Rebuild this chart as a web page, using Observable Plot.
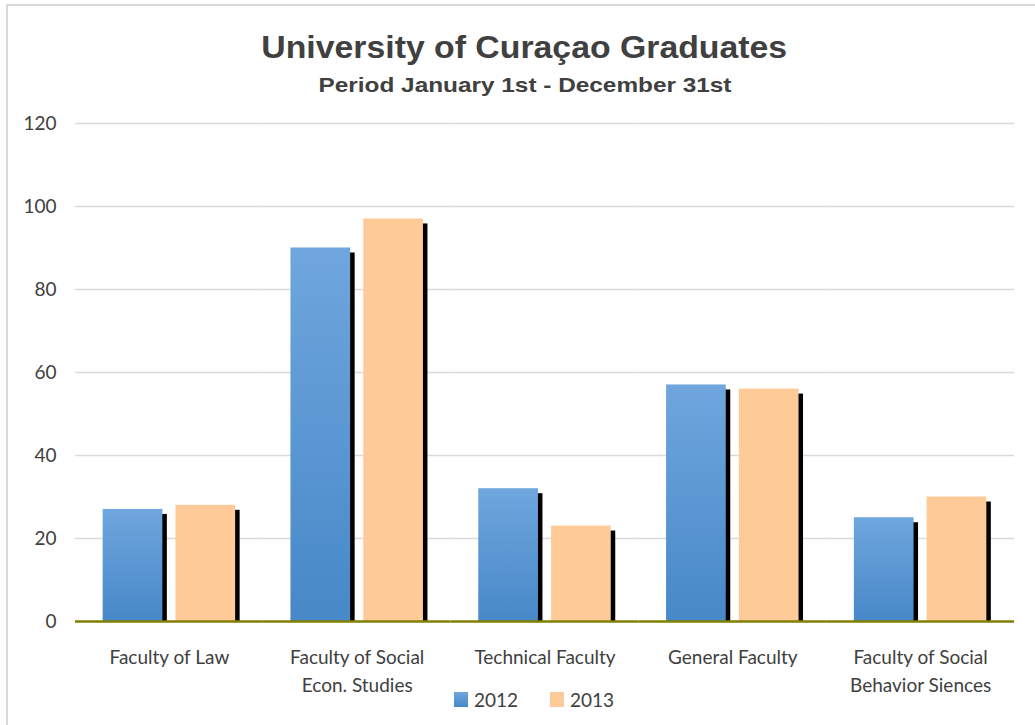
<!DOCTYPE html>
<html>
<head>
<meta charset="utf-8">
<script src="https://cdn.jsdelivr.net/npm/d3@7"></script>
<script src="https://cdn.jsdelivr.net/npm/@observablehq/plot@0.6"></script>
<style>
  html, body { margin: 0; padding: 0; background: #fff; }
  #frame { position: absolute; left: 6px; top: 4px; width: 1100px; height: 800px; border-left: 2px solid #d9d9d9; border-top: 2px solid #d9d9d9; box-sizing: border-box; }
  #wrap { position: absolute; left: 0; top: 0; width: 1035px; }
  #title { height: 110px; text-align: center; font-family: "Liberation Sans", Arial, sans-serif; font-weight: bold; color: #404040; margin-left: 14px; }
  #title .t { padding-top: 30px; line-height: 36px; }
  #title .t span { display: inline-block; font-size: 31px; transform: scaleX(1.09); }
  #title .s { line-height: 26px; margin-top: 1px; }
  #title .s span { display: inline-block; font-size: 21px; transform: scaleX(1.16); }
  #legend { position: absolute; top: 688px; left: 0; width: 1035px; font-family: Lato, "Open Sans", sans-serif; font-size: 19px; color: #404040; }
  .item { position: absolute; top: 0; height: 22px; display: flex; align-items: center; }
  .sw { width: 14px; height: 15px; margin-right: 6px; }
  #chart svg { display: block; overflow: visible; }
</style>
</head>
<body>
<div id="frame"></div>
<div id="wrap">
  <div id="title">
    <div class="t"><span>University of Curaçao Graduates</span></div>
    <div class="s"><span>Period January 1st - December 31st</span></div>
  </div>
  <div id="chart"></div>
  <div id="legend"></div>
</div>
<script>
const categories = ["Faculty of Law", "Faculty of Social\nEcon. Studies", "Technical Faculty", "General Faculty", "Faculty of Social\nBehavior Siences"];
const years = ["2012", "2013"];
const values2012 = [27, 90, 32, 57, 25];
const values2013 = [28, 97, 23, 56, 30];
const yTicks = [0, 20, 40, 60, 80, 100, 120];

const data = [];
categories.forEach((c, i) => {
  data.push({cat: c, year: years[0], value: values2012[i]});
  data.push({cat: c, year: years[1], value: values2013[i]});
});

const defs = () => {
  const d = d3.create("svg:defs");
  const g = d.append("linearGradient").attr("id", "blueGrad").attr("x1", 0).attr("y1", 0).attr("x2", 0).attr("y2", 1);
  g.append("stop").attr("offset", "0%").attr("stop-color", "#6fa6dd");
  g.append("stop").attr("offset", "100%").attr("stop-color", "#4788c8");
  return d.node();
};

const chart = Plot.plot({
  width: 1035,
  height: 615,
  marginTop: 13,
  marginBottom: 104,
  marginLeft: 75,
  marginRight: 21,
  style: { fontFamily: "Lato, 'Open Sans', sans-serif", fontSize: "19px", color: "#404040", background: "transparent" },
  fx: { domain: categories, padding: 0, round: false, label: null },
  x: { domain: years, paddingInner: 0.18, paddingOuter: 0.38, round: false, axis: null },
  y: { domain: [0, 120], label: null },
  marks: [
    defs,
    Plot.ruleY(yTicks.filter(d => d > 0), { stroke: "#d9d9d9", strokeWidth: 1.5 }),
    Plot.barY(data, { fx: "cat", x: "year", y: "value", fill: "#000", dx: 4.5, insetTop: 5 }),
    Plot.barY(data, { fx: "cat", x: "year", y: "value", fill: d => d.year === "2012" ? "url(#blueGrad)" : "#fecb98" }),
    Plot.ruleY([0], { stroke: "#808000", strokeWidth: 2.5 }),
    Plot.axisY({ ticks: yTicks, tickSize: 0, tickPadding: 19, label: null, fill: "#404040", fontSize: 19 }),
    Plot.axisFx({ anchor: "bottom", tickSize: 0, tickPadding: 22, label: null, fill: "#404040", fontSize: 19, lineHeight: 1.5 })
  ]
});
document.getElementById("chart").appendChild(chart);

const legend = document.getElementById("legend");
const legendItems = [
  { label: years[0], bg: "linear-gradient(#6fa6dd, #4788c8)", left: 454 },
  { label: years[1], bg: "#fecb98", left: 550 }
];
legendItems.forEach(it => {
  const el = document.createElement("div");
  el.className = "item";
  el.style.left = it.left + "px";
  el.innerHTML = `<div class="sw" style="background:${it.bg}"></div><span>${it.label}</span>`;
  legend.appendChild(el);
});
</script>
</body>
</html>
